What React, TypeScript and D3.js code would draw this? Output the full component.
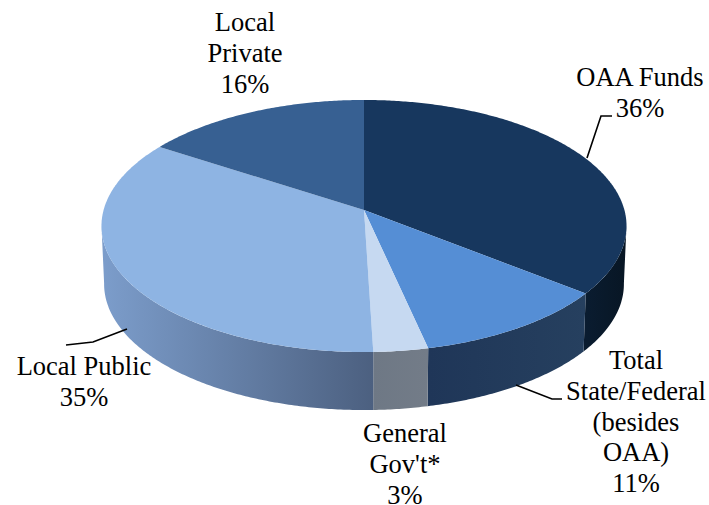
import React from "react";
import * as d3 from "d3";

const categories = ["OAA Funds", "Total State/Federal", "General Gov't", "Local Public", "Local Private"];
const shares = [36, 11, 3, 35, 16];
const topColors = ["#17375e", "#558ed5", "#c6d9f1", "#8eb4e3", "#376092"];
const sideStops = [
  ["#0a1c30", "#081624"],
  ["#1f3658", "#26405f"],
  ["#6e7885", "#737c88"],
  ["#7c9dcb", "#4c6080"],
  ["#2a4a70", "#2a4a70"],
];
const labelLines = [
  { lines: ["OAA Funds", "36%"], x: 640, y: 86 },
  { lines: ["Total", "State/Federal", "(besides", "OAA)", "11%"], x: 636, y: 369 },
  { lines: ["General", "Gov't*", "3%"], x: 405, y: 442 },
  { lines: ["Local Public", "35%"], x: 84, y: 375 },
  { lines: ["Local", "Private", "16%"], x: 245, y: 31 },
];
const leaders = [
  [[587, 158], [601, 116], [612, 116]],
  [[516, 385], [552, 399], [562, 399]],
  [[127, 329], [93, 342], [66, 345]],
];

const W = 709;
const H = 505;
const apex = { x: 364, y: 210 };
const persp = -0.127;
const depth = 58;
const scaleX = d3.scaleLinear().domain([-1, 1]).range([-260.4, 260.4]);
const scaleY = d3.scaleLinear().domain([-1, 1]).range([-124, 124]);

function project(theta: number, widthK = 1, dy = 0): [number, number] {
  const x = Math.sin(theta);
  const y = -Math.cos(theta);
  const w = 1 + persp * y;
  return [apex.x + (scaleX(x) * widthK) / w, apex.y + dy + scaleY(y) / w];
}

function sweep(a0: number, a1: number, widthK = 1, dy = 0): [number, number][] {
  const n = Math.max(2, Math.ceil((a1 - a0) / 0.01));
  return d3.range(n + 1).map((i) => project(a0 + ((a1 - a0) * i) / n, widthK, dy));
}

const toPath = d3.line<[number, number]>().x((d) => d[0]).y((d) => d[1]);
const arcs = d3.pie<number>().sort(null)(shares);
const sideMin = (97 * Math.PI) / 180;
const sideMax = (263 * Math.PI) / 180;

export default function App() {
  return (
    <svg width={W} height={H} style={{ position: "absolute", left: 0, top: 0, background: "#fff" }}>
      <defs>
        {arcs.map((a, i) => {
          const lo = Math.max(a.startAngle, sideMin);
          const hi = Math.min(a.endAngle, sideMax);
          if (hi <= lo) return null;
          const x0 = project(lo)[0];
          const x1 = project(hi)[0];
          return (
            <linearGradient
              key={i}
              id={`side${i}`}
              gradientUnits="userSpaceOnUse"
              x1={Math.min(x0, x1)}
              x2={Math.max(x0, x1)}
              y1={0}
              y2={0}
            >
              <stop offset="0%" stopColor={sideStops[i][x0 < x1 ? 1 : 0]} />
              <stop offset="100%" stopColor={sideStops[i][x0 < x1 ? 0 : 1]} />
            </linearGradient>
          );
        })}
      </defs>
      {arcs.map((a, i) => {
        const lo = Math.max(a.startAngle, sideMin);
        const hi = Math.min(a.endAngle, sideMax);
        if (hi <= lo) return null;
        const pts = [...sweep(lo, hi), ...sweep(lo, hi, 0.99, depth).reverse()];
        return <path key={categories[i]} d={toPath(pts) + "Z"} fill={`url(#side${i})`} />;
      })}
      {arcs.map((a, i) => {
        const pts: [number, number][] = [[apex.x, apex.y], ...sweep(a.startAngle, a.endAngle)];
        return <path key={categories[i]} d={toPath(pts) + "Z"} fill={topColors[i]} />;
      })}
      {leaders.map((l, i) => (
        <path key={i} d={toPath(l as [number, number][]) ?? ""} fill="none" stroke="#000" strokeWidth={1.6} />
      ))}
      {labelLines.map((l) => (
        <text
          key={l.lines[0]}
          textAnchor="middle"
          fontFamily="'Liberation Serif', serif"
          fontSize={26.5}
          fill="#000"
        >
          {l.lines.map((t, j) => (
            <tspan key={j} x={l.x} y={l.y + j * 30.8}>
              {t}
            </tspan>
          ))}
        </text>
      ))}
    </svg>
  );
}
